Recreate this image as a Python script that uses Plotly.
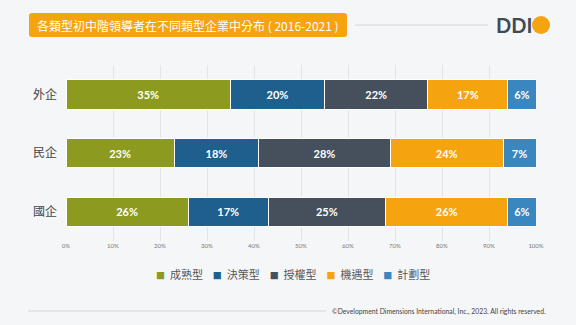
import plotly.graph_objects as go

categories = ["外企", "民企", "國企"]
series_names = ["成熟型", "決策型", "授權型", "機遇型", "計劃型"]
values = {
    "成熟型": [35, 23, 26],
    "決策型": [20, 18, 17],
    "授權型": [22, 28, 25],
    "機遇型": [17, 24, 26],
    "計劃型": [6, 7, 6],
}
colors = ["#8c9a1f", "#1e5f8e", "#46505c", "#f5a30f", "#3a86bf"]
x_ticks = list(range(0, 101, 10))
x_tick_labels = [f"{v}%" for v in x_ticks]
title = "各類型初中階領導者在不同類型企業中分布 ( 2016-2021 )"
copyright_text = "©Development Dimensions International, Inc., 2023. All rights reserved."

W, H = 576, 325
L, R, T, B = 66, 40, 65, 84

def px(x):
    return (x - L) / (W - L - R)

def py(y):
    return (H - B - y) / (H - T - B)

def rounded_rect(x0, y0, x1, y1, r):
    # pixel coordinates -> paper path with rounded corners
    pts = [
        f"M {px(x0 + r)},{py(y0)}",
        f"L {px(x1 - r)},{py(y0)}",
        f"Q {px(x1)},{py(y0)} {px(x1)},{py(y0 + r)}",
        f"L {px(x1)},{py(y1 - r)}",
        f"Q {px(x1)},{py(y1)} {px(x1 - r)},{py(y1)}",
        f"L {px(x0 + r)},{py(y1)}",
        f"Q {px(x0)},{py(y1)} {px(x0)},{py(y1 - r)}",
        f"L {px(x0)},{py(y0 + r)}",
        f"Q {px(x0)},{py(y0)} {px(x0 + r)},{py(y0)}",
        "Z",
    ]
    return " ".join(pts)

fig = go.Figure()
for name, c in zip(series_names, colors):
    fig.add_trace(go.Bar(
        y=categories, x=values[name], name=name, orientation="h",
        marker=dict(color=c, line=dict(color="white", width=1)),
        text=[f"<b>{v}%</b>" for v in values[name]], textposition="inside",
        insidetextanchor="middle",
        textfont=dict(color="white", size=11, family="Lato"),
        width=0.5,
        showlegend=False,
    ))

fig.update_layout(
    barmode="stack",
    width=W, height=H,
    margin=dict(l=L, r=R, t=T, b=B),
    paper_bgcolor="#f5f6f8",
    plot_bgcolor="#f5f6f8",
    xaxis=dict(range=[0, 100], tickvals=x_ticks, ticktext=x_tick_labels,
               showgrid=True, gridcolor="#e2e4e8", gridwidth=1, zeroline=False,
               tickfont=dict(size=6, color="#777", family="Lato"), ticks="",
               fixedrange=True),
    yaxis=dict(categoryorder="array", categoryarray=categories[::-1],
               range=[-0.5, 2.5], showgrid=False, zeroline=False,
               tickfont=dict(size=12, color="#444", family="Noto Sans CJK TC"),
               ticks="", ticklabelstandoff=8),
    uniformtext=dict(minsize=6, mode="show"),
)

shapes = [
    dict(type="path", xref="paper", yref="paper", path=rounded_rect(29, 13, 347, 37, 3),
         fillcolor="#f5a30f", line=dict(width=0), layer="above"),
    dict(type="line", xref="paper", yref="paper", x0=px(355), x1=px(488), y0=py(25), y1=py(25),
         line=dict(color="#d3d6da", width=1)),
    dict(type="circle", xref="paper", yref="paper", x0=px(532), x1=px(550), y0=py(34), y1=py(16),
         fillcolor="#f5a30f", line=dict(width=0)),
    dict(type="line", xref="paper", yref="paper", x0=px(28), x1=px(326), y0=py(311), y1=py(311),
         line=dict(color="#d3d6da", width=1)),
]
fig.update_layout(shapes=shapes)

legend_html = "&nbsp;&nbsp;&nbsp;&nbsp;".join(
    f"<span style='color:{c};font-size:9px'>■</span>&nbsp;&nbsp;{n}"
    for n, c in zip(series_names, colors)
)
fig.add_annotation(xref="paper", yref="paper", x=px(293), y=py(274), text=legend_html, showarrow=False,
                   font=dict(size=11, color="#555", family="Noto Sans CJK TC"),
                   xanchor="center", yanchor="middle")

fig.add_annotation(xref="paper", yref="paper", x=px(188), y=py(25), text=title, showarrow=False,
                   font=dict(size=12, color="white", family="Noto Sans CJK TC"),
                   xanchor="center", yanchor="middle")
fig.add_annotation(xref="paper", yref="paper", x=px(534), y=py(25), text="<b>DDI</b>", showarrow=False,
                   font=dict(size=20, color="#3f4a55", family="Lato"),
                   xanchor="right", yanchor="middle")
fig.add_annotation(xref="paper", yref="paper", x=px(548), y=py(311), text=copyright_text, showarrow=False,
                   font=dict(size=6.8, color="#444", family="Lato"),
                   xanchor="right", yanchor="middle")

fig.write_html("out.html")
